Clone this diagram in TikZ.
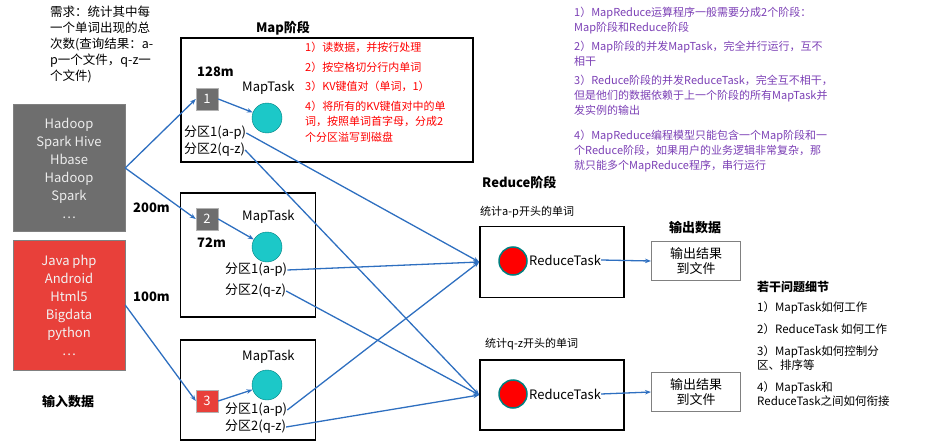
\documentclass[tikz,border=0pt]{standalone}
\usepackage{fontspec}
\setmainfont{Noto Sans CJK SC}
\usetikzlibrary{arrows.meta}
\definecolor{arr}{HTML}{2E6FC0}
\definecolor{pur}{HTML}{7B3FB5}
\definecolor{cy}{HTML}{1CC8C8}
\definecolor{gbox}{HTML}{6E6E6E}
\definecolor{rbox}{HTML}{E8403A}
\begin{document}
\begin{tikzpicture}[x=1pt,y=-1pt,
  every node/.style={font=\fontsize{12}{14}\selectfont, inner sep=0pt},
  blk/.style={draw=black, line width=1.6pt},
  ar/.style={draw=arr, line width=1.3pt, -{Stealth[length=6pt]}},
  circ/.style={circle, fill=cy, draw=teal, minimum size=30pt},
  rc/.style={circle, fill=red, draw=teal, line width=1.5pt, minimum size=28pt},
  sq/.style={draw=gray!60, minimum size=22pt, text=white, font=\fontsize{13}{15}\selectfont},
  lbl/.style={anchor=west},
  bold/.style={font=\fontsize{13}{15}\selectfont\bfseries}]
\useasboundingbox (0,0) rectangle (929,444);
\node[anchor=north west, align=left, font=\fontsize{12.5}{16}\selectfont] (req) at (50,6) {需求：统计其中每\\一个单词出现的总\\次数(查询结果：a-\\p一个文件，q-z一\\个文件)};
\node[draw=gray, fill=gbox, text=white!85!gray, align=center, minimum width=112pt, minimum height=127pt, font=\fontsize{13}{18}\selectfont] (gin) at (69,168) {Hadoop\\Spark Hive\\Hbase\\Hadoop\\Spark\\…};
\node[draw=gray, fill=rbox, text=white!90!gray, align=center, minimum width=112pt, minimum height=130pt, font=\fontsize{13}{18}\selectfont] (rin) at (69,305) {Java php\\Android\\Html5\\Bigdata\\python\\…};
\node[bold] (inl) at (68,402) {输入数据};
% Map stage
\node[bold] (maph) at (283,28) {Map阶段};
\node[blk, minimum width=292pt, minimum height=124pt] (m1) at (327,100) {};
\node[bold, lbl] (s128) at (197,72) {128m};
\node[sq, fill=gbox] (q1) at (207,99) {1};
\node[lbl, font=\fontsize{13}{15}\selectfont] (mt1) at (242,88) {MapTask};
\node[circ] (c1) at (267,118) {};
\node[lbl, font=\fontsize{13}{15}\selectfont] (p11) at (184,133) {分区1(a-p)};
\node[lbl, font=\fontsize{13}{15}\selectfont] (p12) at (184,150) {分区2(q-z)};
\node[anchor=north west, text=red, align=left, font=\fontsize{11}{15.5}\selectfont] (steps) at (305,42) {1）读数据，并按行处理\\[4pt]2）按空格切分行内单词\\[4pt]3）KV键值对（单词，1）\\[4pt]4）将所有的KV键值对中的单\\词，按照单词首字母，分成2\\个分区溢写到磁盘};
\node[blk, minimum width=135pt, minimum height=124pt] (m2) at (248,255) {};
\node[bold, lbl] (s200) at (133,208) {200m};
\node[sq, fill=gbox] (q2) at (207,219) {2};
\node[bold, lbl] (s72) at (197,243) {72m};
\node[lbl, font=\fontsize{13}{15}\selectfont] (mt2) at (242,217) {MapTask};
\node[circ] (c2) at (267,247) {};
\node[lbl, font=\fontsize{13}{15}\selectfont] (p21) at (225,270) {分区1(a-p)};
\node[lbl, font=\fontsize{13}{15}\selectfont] (p22) at (225,291) {分区2(q-z)};
\node[bold, lbl] (s100) at (133,297) {100m};
\node[blk, minimum width=135pt, minimum height=100pt] (m3) at (248,390) {};
\node[sq, fill=rbox] (q3) at (207,401) {3};
\node[lbl, font=\fontsize{13}{15}\selectfont] (mt3) at (242,357) {MapTask};
\node[circ] (c3) at (267,385) {};
\node[lbl, font=\fontsize{13}{15}\selectfont] (p31) at (225,410) {分区1(a-p)};
\node[lbl, font=\fontsize{13}{15}\selectfont] (p32) at (225,427) {分区2(q-z)};
% Reduce stage
\node[bold, lbl] (redh) at (482,182) {Reduce阶段};
\node[lbl, font=\fontsize{11}{13}\selectfont] (ap) at (480,212) {统计a-p开头的单词};
\node[blk, minimum width=144pt, minimum height=71pt] (r1) at (552,262) {};
\node[rc] (rc1) at (513,261) {};
\node[lbl, font=\fontsize{13}{15}\selectfont] (rt1) at (529,260) {ReduceTask};
\node[bold] (outh) at (695,228) {输出数据};
\node[draw=gray, line width=1pt, align=center, minimum width=89pt, minimum height=39pt, font=\fontsize{13}{15}\selectfont] (o1) at (696,261) {输出结果\\到文件};
\node[lbl, font=\fontsize{11}{13}\selectfont] (qz) at (485,344) {统计q-z开头的单词};
\node[blk, minimum width=144pt, minimum height=70pt] (r2) at (552,395) {};
\node[rc] (rc2) at (513,394) {};
\node[lbl, font=\fontsize{13}{15}\selectfont] (rt2) at (529,394) {ReduceTask};
\node[draw=gray, line width=1pt, align=center, minimum width=89pt, minimum height=39pt, font=\fontsize{13}{15}\selectfont] (o2) at (696,392) {输出结果\\到文件};
% notes
\node[anchor=north west, text=pur, align=left, font=\fontsize{11}{15}\selectfont] (notes) at (574,7) {1）MapReduce运算程序一般需要分成2个阶段：\\Map阶段和Reduce阶段\\[4pt]2）Map阶段的并发MapTask，完全并行运行，互不\\相干\\[4pt]3）Reduce阶段的并发ReduceTask，完全互不相干，\\但是他们的数据依赖于上一个阶段的所有MapTask并\\发实例的输出\\[10pt]4）MapReduce编程模型只能包含一个Map阶段和一\\个Reduce阶段，如果用户的业务逻辑非常复杂，那\\就只能多个MapReduce程序，串行运行};
\node[anchor=north west, align=left, font=\fontsize{11.5}{14}\selectfont] (qs) at (757,281) {\textbf{\fontsize{12}{14}\selectfont 若干问题细节}\\[6pt]1）MapTask如何工作\\[8pt]2）ReduceTask 如何工作\\[8pt]3）MapTask如何控制分\\区、排序等\\[8pt]4）MapTask和\\ReduceTask之间如何衔接};
% arrows
\draw[ar] (gin.east) -- (q1.west);
\draw[ar] (gin.east) -- (q2.west);
\draw[ar] (rin.east) -- (q3.west);
\draw[ar] (q1.east) -- (c1);
\draw[ar] (q2.east) -- (c2);
\draw[ar] (q3.east) -- (c3);
\draw[ar] (p11.east) -- (r1.west);
\draw[ar] (p12.east) -- (r2.west);
\draw[ar] (p21.east) -- (r1.west);
\draw[ar] (p22.east) -- (r2.west);
\draw[ar] (p31.east) -- (r1.west);
\draw[ar] (p32.east) -- (r2.west);
\draw[ar] (rt1.east) -- (o1.west);
\draw[ar] (rt2.east) -- (o2.west);
\end{tikzpicture}
\end{document}
